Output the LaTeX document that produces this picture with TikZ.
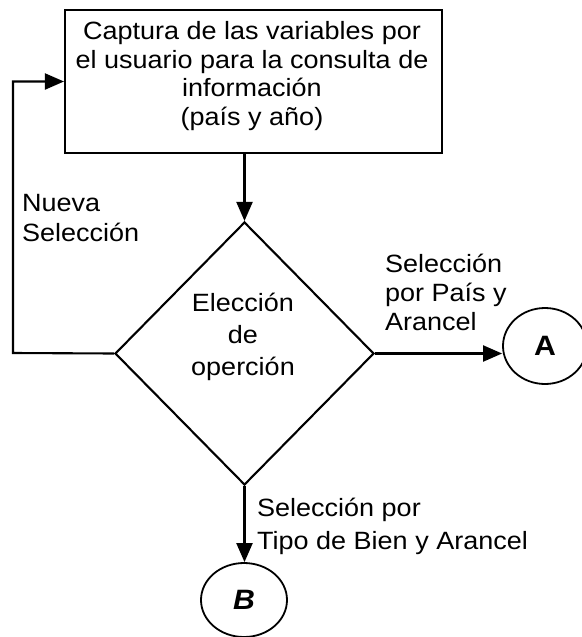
\documentclass[tikz,border=0pt]{standalone}
\usepackage{fontspec}
\setmainfont{Liberation Sans}[FakeStretch=1.08]
\usetikzlibrary{shapes.geometric,arrows.meta}
\tikzset{
  ln/.style={line width=2.1pt},
  arr/.style={ln,-{Triangle[length=19pt,width=16pt]}},
  lbl/.style={inner sep=0pt,align=left,font=\fontsize{25}{30}\selectfont},
  circ/.style={ellipse,draw,line width=1.8pt,inner sep=0pt,font=\fontsize{28}{30}\selectfont\bfseries}
}
\begin{document}
\begin{tikzpicture}[x=1pt,y=-1pt]
\useasboundingbox (0,0) rectangle (581,637);
% process box
\node[draw,ln,minimum width=377pt,minimum height=143pt,inner sep=0pt] (box) at (253.5,81.5) {};
\node[inner sep=0pt,align=center,font=\fontsize{25}{28.5}\selectfont] (boxtxt) at (252,76)
  {Captura de las variables por\\el usuario para la consulta de\\información\\(país y año)};
% decision
\node[diamond,draw,ln,shape aspect=1,minimum width=259pt,minimum height=263pt,inner sep=0pt] (dec) at (244.5,353.5) {};
\node[inner sep=0pt,align=center,font=\fontsize{25}{32}\selectfont] (dectxt) at (243,337)
  {Elección\\de\\operción};
% connectors
\node[circ,minimum width=84pt,minimum height=76pt] (A) at (545,346) {A};
\node[circ,minimum width=86pt,minimum height=74pt] (B) at (244,600) {\itshape B};
\coordinate (lc) at (13,353);
\draw[arr] (box.south -| dec.north) -- (dec.north);
\draw[arr] (dec.west) -- (lc) |- (box.west);
\draw[arr] (dec.east) -- (dec.east -| A.west);
\draw[arr] (dec.south) -- (dec.south |- B.north);
% labels
\node[lbl,anchor=west] (l1) at (22,218) {Nueva\\Selección};
\node[lbl,anchor=west,font=\fontsize{25}{29}\selectfont] (l2) at (385,292) {Selección\\por País y\\Arancel};
\node[lbl,anchor=west,font=\fontsize{25}{33}\selectfont] (l3) at (257,526) {Selección por\\Tipo de Bien y Arancel};
\end{tikzpicture}
\end{document}
